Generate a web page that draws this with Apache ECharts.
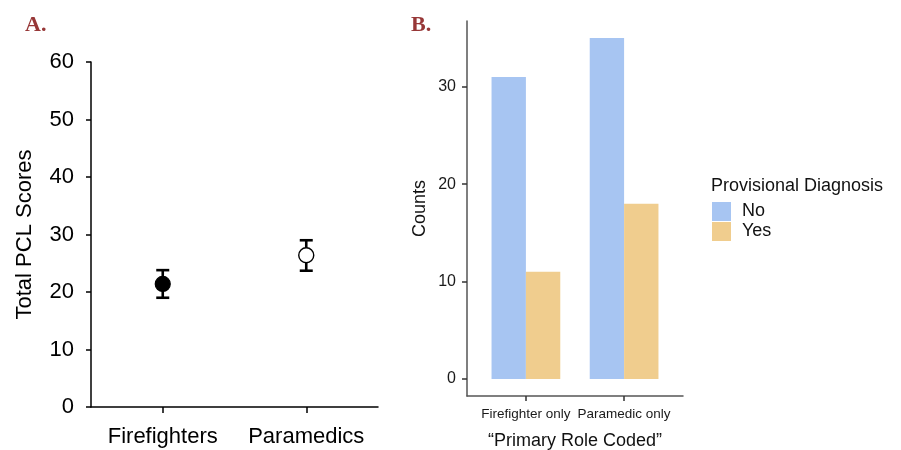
<!DOCTYPE html>
<html><head><meta charset="utf-8">
<script src="https://cdn.jsdelivr.net/npm/echarts@6/dist/echarts.min.js"></script>
<style>html,body{margin:0;padding:0;background:#fff}#c{width:901px;height:450px}</style>
</head><body><div id="c"></div>
<script>
// Panel A data
var groupsA = ['Firefighters', 'Paramedics'];
var meansA = [21.4, 26.4];
var lowerA = [19.0, 23.7];
var upperA = [23.8, 29.0];
var ticksA = [0, 10, 20, 30, 40, 50, 60];
// Panel B data
var rolesB = ['Firefighter only', 'Paramedic only'];
var noCounts = [31, 35];
var yesCounts = [11, 18];
var ticksB = [0, 10, 20, 30];
var legendB = ['No', 'Yes'];

var chart = echarts.init(document.getElementById('c'), null, {renderer: 'canvas'});
var sans = 'Liberation Sans, Arial, sans-serif';
var serif = 'Liberation Serif, Times New Roman, serif';
var blue = '#A7C5F2', yellow = '#F0CD8E';

var option = {
  animation: false,
  backgroundColor: '#fff',
  title: [
    {text: 'A.', left: 25, top: 14, padding: 0, textStyle: {fontFamily: serif, fontWeight: 'bold', fontSize: 22, color: '#973737'}},
    {text: 'B.', left: 411, top: 14, padding: 0, textStyle: {fontFamily: serif, fontWeight: 'bold', fontSize: 22, color: '#973737'}},
    {text: 'Provisional Diagnosis', left: 711, top: 177, padding: 0, textStyle: {fontFamily: sans, fontWeight: 'normal', fontSize: 18, color: '#111'}}
  ],
  legend: {
    data: legendB, orient: 'vertical', left: 712, top: 202, padding: 0, itemWidth: 19, itemHeight: 19, itemGap: 1,
    icon: 'rect', textStyle: {fontFamily: sans, fontSize: 18, color: '#111', padding: [0, 0, 0, 6]},
    selectedMode: false
  },
  grid: [
    {left: 91, top: 62, width: 287, height: 345, outerBoundsMode: 'none', containLabel: false},
    {left: 467, top: 21, width: 216, height: 375, outerBoundsMode: 'none', containLabel: false}
  ],
  xAxis: [
    {type: 'category', gridIndex: 0, data: groupsA, boundaryGap: true,
     axisLine: {lineStyle: {color: '#000', width: 1.5}},
     axisTick: {show: true, interval: 0, alignWithLabel: true, length: 6, lineStyle: {color: '#000', width: 1.5}},
     axisLabel: {interval: 0, fontFamily: sans, fontSize: 22, color: '#000', margin: 19}},
    {type: 'value', gridIndex: 1, min: 0.4, max: 2.6, splitLine: {show: false},
     axisLine: {onZero: false, lineStyle: {color: '#555', width: 1.5}},
     axisTick: {customValues: [1, 2], length: 5, lineStyle: {color: '#333', width: 1.5}},
     axisLabel: {customValues: [1, 2], fontFamily: sans, fontSize: 13.5, color: '#1a1a1a', margin: 11,
       formatter: function (v) { return rolesB[Math.round(v) - 1] || ''; }},
     name: '\u201cPrimary Role Coded\u201d', nameLocation: 'middle', nameGap: 36,
     nameTextStyle: {fontFamily: sans, fontSize: 18, color: '#111'}}
  ],
  yAxis: [
    {type: 'value', gridIndex: 0, min: 0, max: 60, interval: 10, splitLine: {show: false},
     axisLine: {show: true, lineStyle: {color: '#000', width: 1.5}},
     axisTick: {show: true, length: 5, lineStyle: {color: '#000', width: 1.5}},
     axisLabel: {fontFamily: sans, fontSize: 22, color: '#000', margin: 17},
     name: 'Total PCL Scores', nameLocation: 'middle', nameGap: 55,
     nameTextStyle: {fontFamily: sans, fontSize: 22, color: '#000'}},
    {type: 'value', gridIndex: 1, min: -1.75, max: 36.75, splitLine: {show: false},
     axisLine: {show: true, onZero: false, lineStyle: {color: '#555', width: 1.5}},
     axisTick: {show: true, customValues: ticksB, length: 5, lineStyle: {color: '#333', width: 1.5}},
     axisLabel: {customValues: ticksB, fontFamily: sans, fontSize: 16, color: '#1a1a1a', margin: 11},
     name: 'Counts', nameLocation: 'middle', nameGap: 38,
     nameTextStyle: {fontFamily: sans, fontSize: 18, color: '#111'}}
  ],
  series: [
    {type: 'custom', xAxisIndex: 0, yAxisIndex: 0, z: 2,
     data: groupsA.map(function (g, i) { return [i, lowerA[i], upperA[i]]; }),
     renderItem: function (params, api) {
       var lo = api.coord([api.value(0), api.value(1)]);
       var hi = api.coord([api.value(0), api.value(2)]);
       var hw = 6.5;
       var st = {stroke: '#000', lineWidth: 2.6};
       return {type: 'group', children: [
         {type: 'line', shape: {x1: lo[0], y1: lo[1], x2: hi[0], y2: hi[1]}, style: st},
         {type: 'line', shape: {x1: lo[0] - hw, y1: lo[1], x2: lo[0] + hw, y2: lo[1]}, style: st},
         {type: 'line', shape: {x1: hi[0] - hw, y1: hi[1], x2: hi[0] + hw, y2: hi[1]}, style: st}
       ]};
     }},
    {type: 'scatter', xAxisIndex: 0, yAxisIndex: 0, z: 3, symbol: 'circle', symbolSize: 15,
     data: groupsA.map(function (g, i) {
       return {value: [i, meansA[i]], itemStyle: i === 0 ? {color: '#000', borderColor: '#000', borderWidth: 1.2, opacity: 1} : {color: '#fff', borderColor: '#000', borderWidth: 1.4, opacity: 1}};
     })},
    {name: 'No', type: 'bar', xAxisIndex: 1, yAxisIndex: 1, barGap: '0%', barCategoryGap: '30%',
     itemStyle: {color: blue},
     data: noCounts.map(function (v, i) { return [i + 1, v]; })},
    {name: 'Yes', type: 'bar', xAxisIndex: 1, yAxisIndex: 1, barGap: '0%', barCategoryGap: '30%',
     itemStyle: {color: yellow},
     data: yesCounts.map(function (v, i) { return [i + 1, v]; })}
  ]
};
chart.setOption(option);
</script></body></html>
